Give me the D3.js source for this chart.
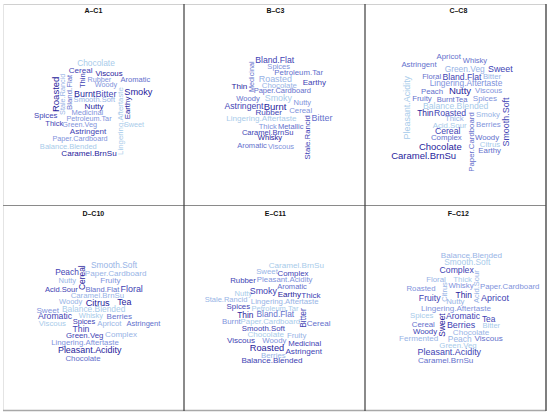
<!DOCTYPE html>
<html>
<head>
<meta charset="utf-8">
<script src="https://cdn.jsdelivr.net/npm/d3@7"></script>
<style>
  body { margin: 0; background: #fff; }
  svg { display: block; }
</style>
</head>
<body>
<div id="chart"></div>
<script>
// one word cloud per panel; each row: [word, weight 0-10, shade 1-6, cloudX, cloudY, rotated]
const wordsA = [
  ["Chocolate",6,1,288,190,0], ["Cereal",5,5,242,211,0], ["Viscous",4,6,327,220,0],
  ["Thin",3,5,248,242,1], ["Rubber",2,3,298,238,0], ["Woody",2,3,318,254,0],
  ["Aromatic",3,4,406,239,0], ["Roasted",10,6,165,283,1], ["Stale.Rancid",2,2,187,283,1],
  ["Bland.Flat",4,4,207,277,1], ["Burnt",8,6,254,281,0], ["Bitter",8,5,318,281,0],
  ["Smooth.Soft",3,2,283,298,0], ["Smoky",9,6,415,275,0], ["Lingering.Aftertaste",4,1,361,363,1],
  ["Earthy",4,6,382,324,1], ["Nutty",5,6,282,318,0], ["Medicinal",3,3,262,338,0],
  ["Spices",4,5,137,346,0], ["Petroleum.Tar",2,3,267,356,0], ["Thick",3,5,163,370,0],
  ["Green.Veg",2,3,239,374,0], ["Sweet",2,1,402,374,0], ["Astringent",5,5,264,394,0],
  ["Paper.Cardboard",2,3,240,416,0], ["Balance.Blended",3,1,205,440,0], ["Caramel.BrnSu",5,6,267,461,0]
];
const wordsB = [
  ["Bland.Flat",7,5,278,180,0], ["Medicinal",2,4,207,230,1], ["Spices",3,3,290,198,0],
  ["Petroleum.Tar",4,4,350,218,0], ["Roasted",8,2,280,238,0], ["Earthy",5,5,397,248,0],
  ["Chocolate",4,2,292,256,0], ["Thin",5,6,172,260,0], ["Paper.Cardboard",3,4,301,272,0],
  ["Woody",3,4,198,294,0], ["Smoky",8,1,289,294,0], ["Nutty",3,3,361,306,0],
  ["Astringent",7,5,186,318,0], ["Burnt",10,6,279,318,0], ["Cereal",4,3,356,332,0],
  ["Rubber",5,5,260,338,0], ["Lingering.Aftertaste",5,1,238,356,0], ["Bitter",8,4,420,354,0],
  ["Stale.Rancid",4,5,375,412,1], ["Thick",3,3,257,378,0], ["Metallic",3,4,326,378,0],
  ["Caramel.BrnSu",3,5,257,398,0], ["Whisky",3,6,264,412,0], ["Aromatic",3,4,210,436,0],
  ["Viscous",3,3,297,440,0]
];
const wordsC = [
  ["Apricot",4,4,251,170,0], ["Whisky",3,4,330,182,0], ["Astringent",4,4,162,192,0],
  ["Green.Veg",6,2,299,207,0], ["Sweet",8,5,406,207,0], ["Floral",3,4,200,230,0],
  ["Bland.Flat",7,5,291,230,0], ["Bitter",4,2,381,230,0], ["Pleasant.Acidity",8,1,126,323,1],
  ["Lingering.Aftertaste",6,3,303,248,0], ["Peach",4,4,201,275,0], ["Nutty",10,6,285,272,0],
  ["Viscous",4,3,371,272,0], ["Fruity",4,4,171,296,0], ["Burnt",3,4,242,298,0],
  ["Tea",3,4,289,298,0], ["Spices",5,3,360,294,0], ["Balance.Blended",7,1,272,318,0],
  ["Smooth.Soft",8,5,424,366,1], ["Thin",6,6,181,340,0], ["Roasted",7,5,255,340,0],
  ["Paper.Cardboard",4,4,318,426,1], ["Smoky",4,2,369,344,0], ["Thick",4,2,268,356,0],
  ["Acid.Sour",4,1,254,375,0], ["Berries",4,3,370,374,0], ["Cereal",7,5,248,394,0],
  ["Complex",4,4,244,412,0], ["Woody",4,4,366,411,0], ["Citrus",4,1,375,432,0],
  ["Chocolate",10,6,226,438,0], ["Earthy",4,4,374,451,0], ["Caramel.BrnSu",10,6,176,466,0]
];
const wordsD = [
  ["Smooth.Soft",6,2,342,181,0], ["Peach",6,5,201,202,0], ["Cereal",6,6,247,218,1],
  ["Paper.Cardboard",5,2,347,205,0], ["Nutty",3,2,202,226,0], ["Fruity",5,3,331,226,0],
  ["Acid.Sour",3,5,184,253,0], ["Bland.Flat",3,4,307,252,0], ["Floral",8,5,395,252,0],
  ["Caramel.BrnSu",4,2,292,271,0], ["Woody",3,2,212,290,0], ["Citrus",9,6,293,293,0],
  ["Tea",8,6,373,291,0], ["Sweet",5,3,143,315,0], ["Balance.Blended",6,1,281,313,0],
  ["Aromatic",7,5,165,334,0], ["Whisky",3,1,273,330,0], ["Berries",5,4,358,334,0],
  ["Viscous",4,1,157,356,0], ["Spices",3,5,252,350,0], ["Apricot",4,2,328,354,0],
  ["Astringent",3,4,430,356,0], ["Thin",7,5,243,371,0], ["Complex",5,2,363,387,0],
  ["Green.Veg",4,5,254,391,0], ["Lingering.Aftertaste",4,3,255,412,0],
  ["Pleasant.Acidity",8,6,269,435,0], ["Chocolate",4,4,249,460,0]
];
const wordsE = [
  ["Caramel.BrnSu",5,1,343,182,0], ["Sweet",4,2,255,200,0], ["Complex",4,5,333,205,0],
  ["Rubber",4,5,183,227,0], ["Pleasant.Acidity",4,3,308,224,0], ["Aromatic",3,4,330,245,0],
  ["Nutty",3,1,184,264,0], ["Smoky",8,5,244,259,0], ["Earthy",5,6,322,267,0],
  ["Thick",5,5,387,270,0], ["Stale.Rancid",3,2,132,284,0], ["Lingering.Aftertaste",4,2,308,288,0],
  ["Spices",4,5,169,303,0], ["Petroleum.Tar",3,1,279,311,0], ["Thin",6,6,190,329,0],
  ["Bland.Flat",6,4,280,328,0], ["Bitter",6,5,362,339,1], ["Burnt",4,3,148,350,0],
  ["Paper.Cardboard",4,1,265,349,0], ["Cereal",5,4,410,354,0], ["Smooth.Soft",4,5,244,369,0],
  ["Chocolate",5,1,251,388,0], ["Fruity",4,2,344,390,0], ["Viscous",5,5,177,406,0],
  ["Woody",4,3,277,405,0], ["Medicinal",4,5,368,414,0], ["Roasted",9,6,255,430,0],
  ["Astringent",5,5,365,438,0], ["Berries",4,2,274,450,0], ["Balance.Blended",5,5,270,466,0]
];
const wordsF = [
  ["Balance.Blended",5,2,319,152,0], ["Smooth.Soft",6,1,307,172,0], ["Complex",7,5,275,195,0],
  ["Floral",4,2,213,222,0], ["Thick",4,1,293,223,0], ["Acid.Sour",3,2,335,245,1],
  ["Citrus",3,2,239,261,1], ["Whisky",4,3,288,242,0], ["Paper.Cardboard",4,3,434,245,0],
  ["Roasted",4,3,168,249,0], ["Thin",6,6,296,270,0], ["Fruity",7,5,194,280,0],
  ["Nutty",4,2,271,289,0], ["Apricot",8,5,390,280,0], ["Lingering.Aftertaste",5,3,273,310,0],
  ["Spices",4,1,170,330,0], ["Sweet",6,6,232,360,1], ["Aromatic",7,5,294,334,0],
  ["Tea",6,5,371,341,0], ["Cereal",4,4,175,357,0], ["Berries",8,5,288,360,0],
  ["Bitter",3,1,379,362,0], ["Woody",4,5,180,379,0], ["Chocolate",5,2,318,381,0],
  ["Fermented",5,2,161,401,0], ["Peach",6,2,284,401,0], ["Viscous",5,4,371,401,0],
  ["Green.Veg",4,1,279,421,0], ["Pleasant.Acidity",8,5,253,440,0], ["Caramel.BrnSu",5,4,242,465,0]
];

const titles = ["A\u2013C1", "B\u2013C3", "C\u2013C8", "D\u2013C10", "E\u2013C11", "F\u2013C12"];
const clouds = [wordsA, wordsB, wordsC, wordsD, wordsE, wordsF];

const width = 550, height = 414;
const cols = [0, 182, 365], rows = [0, 205];

const fontSize = d3.scaleLinear().domain([0, 10]).range([6.7, 9.5]);
const shade = d3.scaleOrdinal()
  .domain([1, 2, 3, 4, 5, 6])
  .range(["#a8cbea", "#98b4e6", "#7f93dc", "#6470cc", "#4143b4", "#27239c"]);

const svg = d3.select("#chart").append("svg")
  .attr("width", width)
  .attr("height", height)
  .attr("font-family", "'Liberation Sans', Arial, Helvetica, sans-serif");

// panel frame
const frame = svg.append("g").attr("fill", "none");
frame.append("line").attr("x1", 3).attr("x2", 546).attr("y1", 4.5).attr("y2", 4.5).attr("stroke", "#d0d0d0");
frame.append("line").attr("x1", 3.5).attr("x2", 3.5).attr("y1", 4).attr("y2", 411).attr("stroke", "#e4e4e4");
frame.append("line").attr("x1", 3).attr("x2", 546).attr("y1", 205.5).attr("y2", 205.5).attr("stroke", "#8a8a8a").attr("stroke-width", 1.2);
frame.append("line").attr("x1", 3).attr("x2", 546).attr("y1", 410.5).attr("y2", 410.5).attr("stroke", "#a8a8a8").attr("stroke-width", 1.5);
[184, 365].forEach(x => frame.append("line")
  .attr("x1", x).attr("x2", x).attr("y1", 4).attr("y2", 411)
  .attr("stroke", "#3c3c3c").attr("stroke-width", 1.2));
frame.append("line").attr("x1", 546).attr("x2", 546).attr("y1", 4).attr("y2", 411)
  .attr("stroke", "#555").attr("stroke-width", 1.5);

clouds.forEach((words, i) => {
  const ox = cols[i % 3], oy = rows[Math.floor(i / 3)];
  const x = d3.scaleLinear().domain([0, 555]).range([ox, ox + 185]);
  const y = d3.scaleLinear().domain([0, 621]).range([oy, oy + 207]);

  const g = svg.append("g").attr("class", "panel");

  g.append("text")
    .attr("x", x(280))
    .attr("y", y(i < 3 ? 30 : 24))
    .attr("text-anchor", "middle")
    .attr("dominant-baseline", "central")
    .attr("font-size", 7)
    .attr("font-weight", "bold")
    .attr("fill", "#111")
    .text(titles[i]);

  g.selectAll("text.word")
    .data(words)
    .join("text")
      .attr("class", "word")
      .attr("text-anchor", "middle")
      .attr("dominant-baseline", "central")
      .attr("transform", d => `translate(${x(d[3])},${y(d[4])})` + (d[5] ? " rotate(-90)" : ""))
      .attr("font-size", d => fontSize(d[1]))
      .attr("fill", d => shade(d[2]))
      .text(d => d[0]);
});
</script>
</body>
</html>
